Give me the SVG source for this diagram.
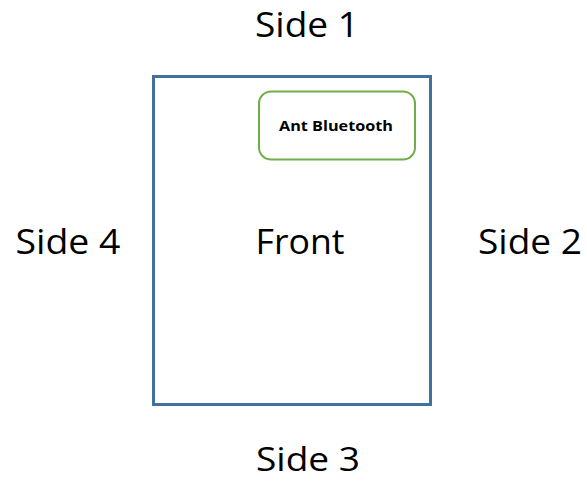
<svg xmlns="http://www.w3.org/2000/svg" width="587" height="481" viewBox="0 0 587 481">
<style>
.lbl{font-family:"Open Sans","Noto Sans","Liberation Sans",sans-serif;font-size:34px;fill:#000;text-anchor:middle}
.small{font-family:"Open Sans","Noto Sans","Liberation Sans",sans-serif;font-size:14px;font-weight:bold;fill:#000;text-anchor:middle}
</style>
<rect width="587" height="481" fill="#fff"/>
<g id="front">
<rect x="153.5" y="76.5" width="277" height="328" fill="#fff" stroke="#41719C" stroke-width="3"/>
<text class="lbl" x="300" y="254" textLength="89" lengthAdjust="spacingAndGlyphs">Front</text>
</g>
<g id="ant-bluetooth">
<rect x="259" y="91.5" width="156" height="68" rx="12" fill="#fff" stroke="#70AD47" stroke-width="2"/>
<text class="small" x="336" y="131" textLength="114" lengthAdjust="spacingAndGlyphs">Ant Bluetooth</text>
</g>
<g id="side1"><text class="lbl" x="307" y="37" textLength="104" lengthAdjust="spacingAndGlyphs">Side 1</text></g>
<g id="side2"><text class="lbl" x="530" y="254" textLength="104" lengthAdjust="spacingAndGlyphs">Side 2</text></g>
<g id="side3"><text class="lbl" x="308" y="471" style="font-size:33px" textLength="104" lengthAdjust="spacingAndGlyphs">Side 3</text></g>
<g id="side4"><text class="lbl" x="68" y="254" textLength="105" lengthAdjust="spacingAndGlyphs">Side 4</text></g>
<g id="connectors"></g>
</svg>
